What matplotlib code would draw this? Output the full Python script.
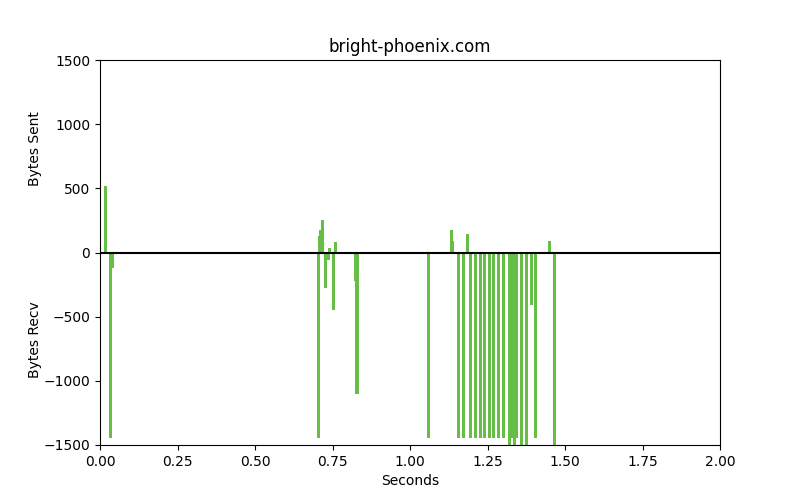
import matplotlib
matplotlib.use("Agg")
import matplotlib.pyplot as plt

title = "bright-phoenix.com"
bar_color = "#66BE47"

sent_times = [0.018, 0.708, 0.711, 0.718, 0.740, 0.760, 1.134, 1.137, 1.185, 1.450]
sent_bytes = [520, 128, 175, 253, 35, 82, 175, 90, 144, 90]

recv_times = [0.033, 0.040, 0.705, 0.727, 0.738, 0.753, 0.824, 0.829, 1.060,
              1.155, 1.173, 1.194, 1.211, 1.227, 1.240, 1.256, 1.269, 1.286,
              1.303, 1.321, 1.328, 1.337, 1.343, 1.360, 1.376, 1.392, 1.405, 1.466]
recv_bytes = [-1448, -118, -1448, -274, -56, -446, -220, -1100, -1448,
              -1448, -1448, -1448, -1448, -1448, -1448, -1448, -1448, -1448,
              -1448, -1600, -1448, -1600, -1448, -1600, -1600, -407, -1448, -1600]

fig, ax = plt.subplots(figsize=(8, 5), dpi=100)
ax.bar(sent_times, sent_bytes, width=0.01, color=bar_color, linewidth=0)
ax.bar(recv_times, recv_bytes, width=0.01, color=bar_color, linewidth=0)
ax.axhline(0, color="black", linewidth=1.5)
ax.set_xlim(0, 2)
ax.set_ylim(-1500, 1500)
ax.set_title(title)
ax.set_xlabel("Seconds")
ax.text(-0.105, 0.771, "Bytes Sent", rotation=90, ha="center", va="center",
        transform=ax.transAxes)
ax.text(-0.105, 0.273, "Bytes Recv", rotation=90, ha="center", va="center",
        transform=ax.transAxes)
fig.savefig("out.png", dpi=100)
